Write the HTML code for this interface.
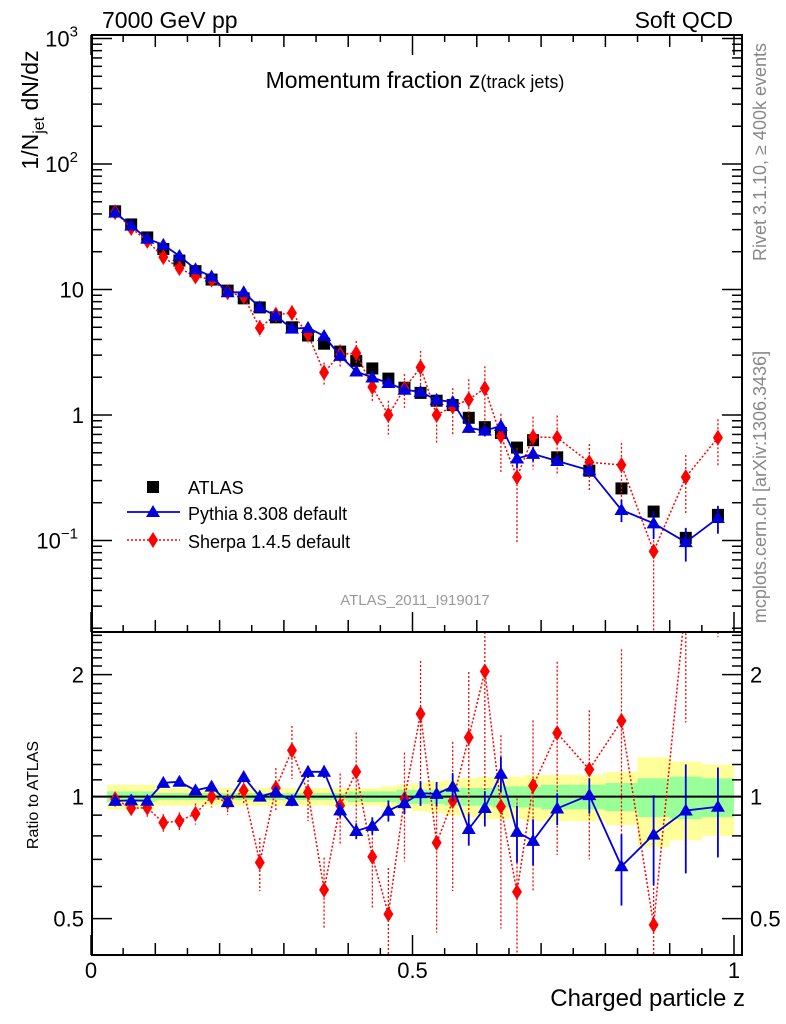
<!DOCTYPE html>
<html><head><meta charset="utf-8">
<style>
html,body{margin:0;padding:0;background:#fff;overflow:hidden;width:786px;height:1024px;}
svg{display:block;font-family:"Liberation Sans",sans-serif;}
</style></head>
<body>
<svg id="chart" width="786" height="1024" viewBox="0 0 786 1024" xmlns="http://www.w3.org/2000/svg">
<text x="102" y="28" font-size="23">7000 GeV pp</text>
<text x="733" y="28" font-size="23" text-anchor="end">Soft QCD</text>
<text x="415" y="88" font-size="23" text-anchor="middle">Momentum fraction z<tspan font-size="18">(track jets)</tspan></text>
<text x="415" y="605" font-size="15" fill="#999" text-anchor="middle">ATLAS_2011_I919017</text>
<text transform="translate(766,152) rotate(-90)" font-size="18" fill="#888" text-anchor="middle">Rivet 3.1.10, ≥ 400k events</text>
<text transform="translate(766,487) rotate(-90)" font-size="18" fill="#888" text-anchor="middle">mcplots.cern.ch [arXiv:1306.3436]</text>
<text transform="translate(38,110) rotate(-90)" font-size="23" text-anchor="middle">1/N<tspan font-size="16" dy="6">jet</tspan><tspan dy="-6"> dN/dz</tspan></text>
<text transform="translate(38,795) rotate(-90)" font-size="16" text-anchor="middle">Ratio to ATLAS</text>
<text x="745" y="1006" font-size="24" text-anchor="end">Charged particle z</text>
<g id="g"></g>
</svg>
<script>
const zCenters=[0.0375,0.0625,0.0875,0.1125,0.1375,0.1625,0.1875,0.2125,0.2375,0.2625,0.2875,0.3125,0.3375,0.3625,0.3875,0.4125,0.4375,0.4625,0.4875,0.5125,0.5375,0.5625,0.5875,0.6125,0.6375,0.6625,0.6875,0.725,0.775,0.825,0.875,0.925,0.975];
const zWidths=[0.025,0.025,0.025,0.025,0.025,0.025,0.025,0.025,0.025,0.025,0.025,0.025,0.025,0.025,0.025,0.025,0.025,0.025,0.025,0.025,0.025,0.025,0.025,0.025,0.025,0.025,0.025,0.05,0.05,0.05,0.05,0.05,0.05];
const atlas=[42,33,26,21,17,14,12,9.8,8.5,7.2,6.0,5.0,4.3,3.7,3.2,2.7,2.35,1.95,1.65,1.5,1.3,1.2,0.95,0.8,0.72,0.55,0.63,0.46,0.36,0.26,0.17,0.105,0.16];
const atlasTot=[0.07,0.07,0.07,0.05,0.05,0.05,0.05,0.05,0.05,0.05,0.05,0.05,0.05,0.05,0.05,0.05,0.05,0.06,0.07,0.08,0.09,0.1,0.11,0.12,0.12,0.12,0.13,0.13,0.13,0.15,0.25,0.22,0.2];
const atlasStat=[0.03,0.03,0.03,0.02,0.02,0.02,0.02,0.02,0.02,0.02,0.02,0.02,0.02,0.02,0.02,0.03,0.03,0.03,0.04,0.04,0.04,0.05,0.05,0.05,0.06,0.06,0.06,0.07,0.07,0.08,0.11,0.12,0.11];
const pythia=[41.0,32.3,25.4,22.7,18.5,14.5,12.7,9.5,9.5,7.2,6.16,4.88,4.95,4.26,2.96,2.22,1.99,1.80,1.59,1.53,1.32,1.27,0.79,0.75,0.82,0.45,0.49,0.43,0.363,0.175,0.137,0.097,0.151];
const pythiaErr=[0.01,0.01,0.01,0.015,0.015,0.015,0.02,0.02,0.025,0.025,0.03,0.03,0.035,0.035,0.04,0.045,0.05,0.06,0.06,0.07,0.07,0.08,0.09,0.1,0.1,0.16,0.13,0.09,0.1,0.2,0.25,0.3,0.25];
const sherpa=[41.4,30.9,24.4,18.1,14.8,12.7,12.0,9.5,8.8,4.95,6.3,6.5,4.4,2.18,3.04,3.11,1.67,1.0,1.63,2.4,1.0,1.17,1.33,1.63,0.68,0.32,0.67,0.66,0.42,0.40,0.082,0.32,0.66];
const sherpaErr=[0.03,0.04,0.05,0.05,0.05,0.06,0.06,0.07,0.08,0.15,0.12,0.15,0.15,0.2,0.2,0.25,0.25,0.3,0.3,0.35,0.4,0.4,0.45,0.5,0.5,0.7,0.45,0.5,0.4,0.5,0.9,0.5,0.4];
const ratioTicks=[0.5,1,2];
const ns="http://www.w3.org/2000/svg";
const g=document.getElementById('g');
const X0=92,X1=742,Y0=35,Y1=632,R1=955;
const xs=z=>91+z*643;
const ys=v=>415-125.5*Math.log10(v);
const yr=r=>796.6-122*Math.log2(r);
function el(t,a,p){const e=document.createElementNS(ns,t);for(const k in a)e.setAttribute(k,a[k]);(p||g).appendChild(e);return e;}
const defs=el('defs',{});
const c1=el('clipPath',{id:'ct'},defs);el('rect',{x:X0,y:Y0,width:X1-X0,height:Y1-Y0},c1);
const c2=el('clipPath',{id:'cr'},defs);el('rect',{x:X0,y:Y1,width:X1-X0,height:R1-Y1},c2);
const gt=el('g',{'clip-path':'url(#ct)'});


const gr=el('g',{'clip-path':'url(#cr)'});


zCenters.forEach((z,i)=>{
  const xa=xs(z-zWidths[i]/2),xb=xs(z+zWidths[i]/2);
  const b1=el('rect',{x:xa,y:yr(1+atlasTot[i]),width:xb-xa,height:yr(1-atlasTot[i])-yr(1+atlasTot[i]),fill:'#ffff99'},gr);
  
  
});
zCenters.forEach((z,i)=>{
  const xa=xs(z-zWidths[i]/2),xb=xs(z+zWidths[i]/2);
  const b2=el('rect',{x:xa,y:yr(1+atlasStat[i]),width:xb-xa,height:yr(1-atlasStat[i])-yr(1+atlasStat[i]),fill:'#99ff99'},gr);
  
  
});
el('line',{x1:X0,x2:X1,y1:yr(1),y2:yr(1),stroke:'#000','stroke-width':2},gr);
function diamond(p,x,y,c){return el('polygon',{points:`${x},${y-8} ${x+5},${y} ${x},${y+8} ${x-5},${y}`,fill:c},p);}
function tri(p,x,y,c){return el('polygon',{points:`${x},${y-7} ${x+7},${y+5} ${x-7},${y+5}`,fill:c},p);}
function series(p,vals,errs,fy,color,dash,mk,name,ratio){
  let pts=vals.map((v,i)=>[xs(zCenters[i]),fy(ratio?v/atlas[i]:v)]);
  const l=el('polyline',{points:pts.map(q=>q.join(',')).join(' '),fill:'none',stroke:color,'stroke-width':dash?1.5:1.8,'stroke-dasharray':dash?'2,2':'none'},p);
  
  
  vals.forEach((v,i)=>{
    const base=ratio?v/atlas[i]:v;
    const x=pts[i][0];
    const e=el('line',{x1:x,x2:x,y1:fy(base*(1+errs[i])),y2:fy(Math.max(base*(1-errs[i]),1e-3)),stroke:color,'stroke-width':dash?1.3:1.8,'stroke-dasharray':dash?'2,2':'none'},p);
    
    
    const m=mk(p,x,pts[i][1],color);
    
    
  });
}
zCenters.forEach((z,i)=>{
  const s=el('rect',{x:xs(z)-6,y:ys(atlas[i])-6,width:12,height:12,fill:'#000'},gt);
  
  
});
series(gt,sherpa,sherpaErr,ys,'#ff0000',true,diamond,'sherpa',false);
series(gt,pythia,pythiaErr,ys,'#0000dd',false,tri,'pythia',false);
series(gr,sherpa,sherpaErr,yr,'#ff0000',true,diamond,'sherpa-ratio',true);
series(gr,pythia,pythiaErr,yr,'#0000dd',false,tri,'pythia-ratio',true);
[[Y0,Y1],[Y1,R1]].forEach(([a,b])=>{const f=el('rect',{x:X0,y:a,width:X1-X0,height:b-a,fill:'none',stroke:'#000','stroke-width':2});});
for(let d=-2;d<=3;d++){for(let k=1;k<10;k++){const v=k*Math.pow(10,d);const y=ys(v);if(y<Y0||y>Y1)continue;const L=k==1?20:10;
 el('line',{x1:X0,x2:X0+L,y1:y,y2:y,stroke:'#000','stroke-width':1.5});el('line',{x1:X1,x2:X1-L,y1:y,y2:y,stroke:'#000','stroke-width':1.5});}}
const ylab=[[3,'10','3'],[2,'10','2'],[1,'10',''],[0,'1',''],[-1,'10','−1']];
ylab.forEach(([d,b,e])=>{const t=el('text',{x:e?78:84,y:ys(Math.pow(10,d))+8,'font-size':22,'text-anchor':'end'});t.textContent=b;
 if(e){const s=el('tspan',{dy:-10,'font-size':15},t);s.textContent=e;}
 });
for(let r=0.4;r<=2.55;r+=0.1){const y=yr(r);if(y<Y1||y>R1)continue;const maj=Math.abs(r-0.5)<1e-6||Math.abs(r-1)<1e-6||Math.abs(r-2)<1e-6;const L=maj?20:10;
 el('line',{x1:X0,x2:X0+L,y1:y,y2:y,stroke:'#000','stroke-width':1.5});el('line',{x1:X1,x2:X1-L,y1:y,y2:y,stroke:'#000','stroke-width':1.5});}
ratioTicks.forEach(r=>{[[84,'end'],[750,'start']].forEach(([x,a])=>{const t=el('text',{x:x,y:yr(r)+8,'font-size':22,'text-anchor':a});t.textContent=String(r);});});
for(let i=0;i<=20;i++){const z=i*0.05;const x=xs(z);if(x>X1)continue;const L=i%10==0?20:(i%2==0?12:7);
 [[Y1,-1],[R1,-1],[Y0,1]].forEach(([y,s])=>el('line',{x1:x,x2:x,y1:y,y2:y+s*L,stroke:'#000','stroke-width':1.5}));}
[[0,'0'],[0.5,'0.5'],[1,'1']].forEach(([z,s])=>{const t=el('text',{x:xs(z),y:978,'font-size':22,'text-anchor':'middle'});t.textContent=s;});
const lg=el('g',{});
el('rect',{x:147,y:481,width:12,height:12,fill:'#000'},lg);
el('line',{x1:127,x2:180,y1:512,y2:512,stroke:'#0000dd','stroke-width':1.8},lg);tri(lg,153,512,'#0000dd');
el('line',{x1:127,x2:180,y1:540,y2:540,stroke:'#ff0000','stroke-width':1.5,'stroke-dasharray':'2,2'},lg);diamond(lg,153,540,'#ff0000');
[['ATLAS',494],['Pythia 8.308 default',520],['Sherpa 1.4.5 default',548]].forEach(([s,y])=>{const t=el('text',{x:188,y:y,'font-size':18},lg);t.textContent=s;});
</script>
</body></html>
